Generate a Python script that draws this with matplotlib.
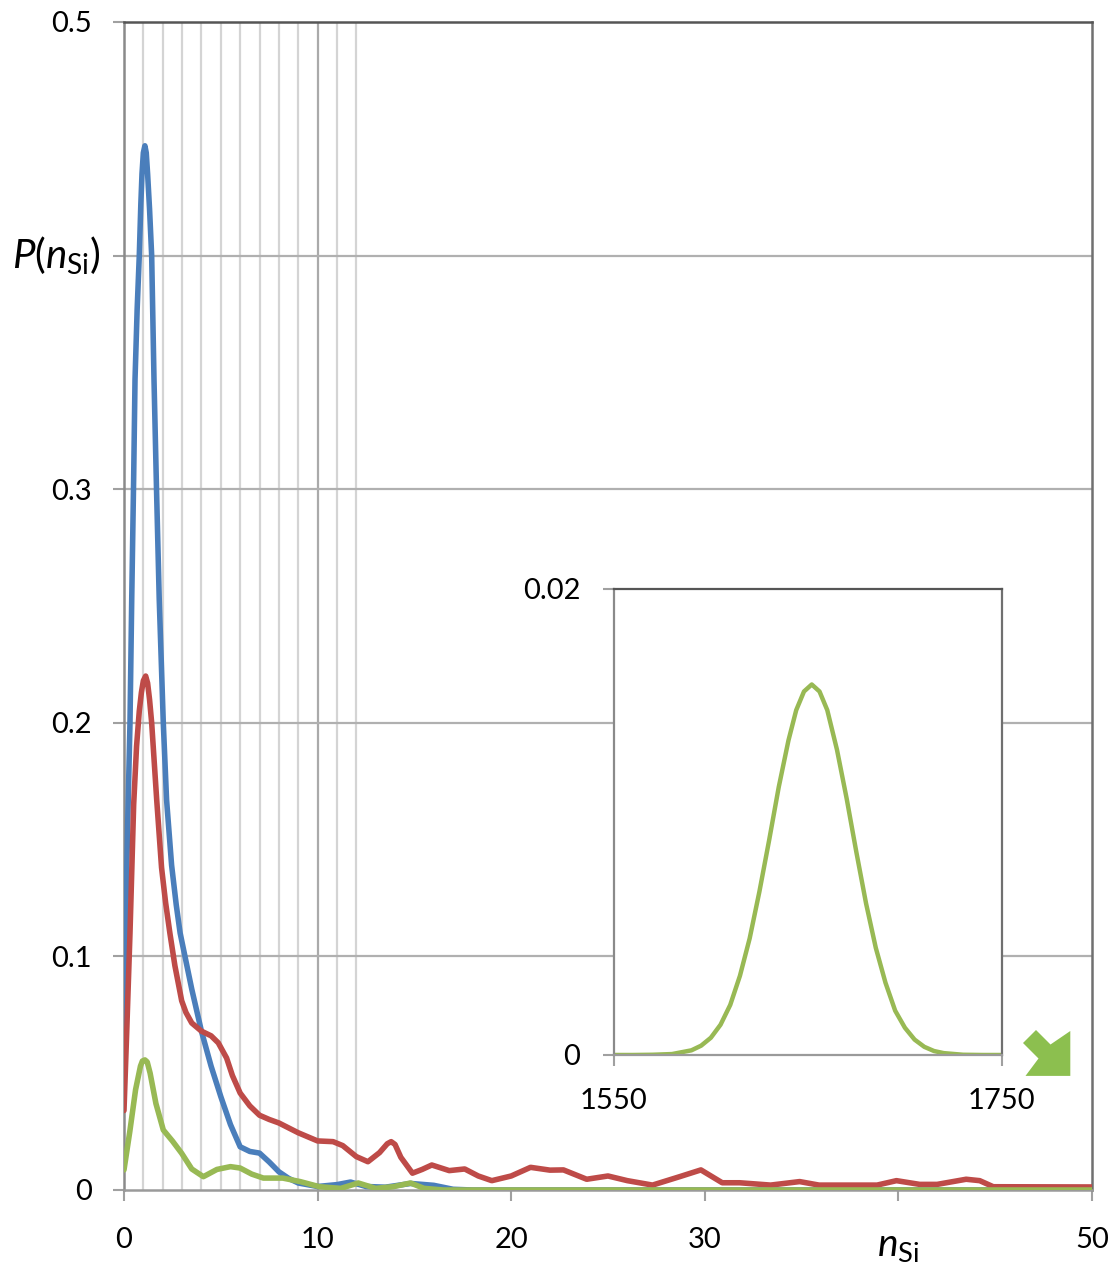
import matplotlib
matplotlib.use("Agg")
import matplotlib.pyplot as plt
from matplotlib.patches import Polygon

plt.rcParams['font.family'] = ['Lato', 'DejaVu Sans']
plt.rcParams['mathtext.fontset'] = 'custom'
plt.rcParams['mathtext.rm'] = 'Lato'
plt.rcParams['mathtext.it'] = 'Lato:italic'

# main chart data
blue_x = [0, 0.1, 0.2, 0.31, 0.4, 0.5, 0.57, 0.68, 0.79, 0.87, 0.93, 1.0, 1.08, 1.15, 1.22,
          1.32, 1.43, 1.55, 1.68, 1.82, 2.03, 2.2, 2.46, 2.7, 2.9, 3.15, 3.5, 4, 4.5, 5,
          5.5, 6, 6.5, 7, 7.5, 8, 8.5, 9, 10, 11, 11.7, 12.5, 13.5, 14.8, 16, 17, 18, 50]
blue_y = [0.07, 0.12, 0.16, 0.2, 0.253, 0.305, 0.347, 0.377, 0.4, 0.422, 0.435, 0.444, 0.447,
          0.444, 0.435, 0.42, 0.4, 0.347, 0.3, 0.253, 0.2, 0.167, 0.139, 0.122, 0.11, 0.1,
          0.086, 0.068, 0.053, 0.04, 0.028, 0.0185, 0.0165, 0.0158, 0.012, 0.0078, 0.005,
          0.003, 0.0015, 0.0023, 0.0034, 0.0015, 0.0012, 0.0028, 0.002, 0.0003, 0.0, 0.0]

red_x = [0, 0.15, 0.31, 0.5, 0.65, 0.79, 0.9, 1.0, 1.12, 1.22, 1.32, 1.43, 1.69, 1.94, 2.15,
         2.37, 2.63, 2.98, 3.2, 3.5, 4, 4.5, 4.87, 5.3, 5.6, 6, 6.5, 7, 7.5, 8, 9, 10, 10.8,
         11.3, 12, 12.6, 13.2, 13.6, 13.8, 14.0, 14.3, 14.9, 15.4, 15.9, 16.8, 17.6, 18.3,
         19.0, 20, 21, 22, 22.7, 23.9, 25, 26, 27.3, 28.7, 29.8, 30.9, 31.8, 33.4, 34.9,
         35.9, 38.9, 39.9, 41.1, 42, 43.5, 44.2, 44.9, 50]
red_y = [0.034, 0.07, 0.11, 0.165, 0.19, 0.205, 0.213, 0.218, 0.22, 0.217, 0.21, 0.2, 0.167,
         0.138, 0.123, 0.11, 0.096, 0.081, 0.076, 0.0715, 0.068, 0.066, 0.063, 0.0565,
         0.049, 0.0415, 0.036, 0.032, 0.0302, 0.0287, 0.0245, 0.021, 0.0207, 0.019, 0.0143,
         0.0121, 0.016, 0.0198, 0.0207, 0.0195, 0.014, 0.0072, 0.0088, 0.0107, 0.0083,
         0.009, 0.006, 0.004, 0.006, 0.0097, 0.0085, 0.0086, 0.0046, 0.006, 0.004, 0.0021,
         0.0057, 0.0086, 0.0031, 0.0031, 0.0021, 0.0036, 0.0021, 0.0021, 0.004, 0.0024,
         0.0024, 0.0046, 0.004, 0.0014, 0.0013]

green_x = [0, 0.3, 0.6, 0.85, 0.95, 1.08, 1.2, 1.35, 1.65, 2.03, 2.5, 2.98, 3.5, 4.1, 4.8,
           5.5, 6.0, 6.6, 7.2, 8.2, 9.1, 10.1, 11.2, 12.1, 13.0, 13.9, 14.8, 15.5, 16.5, 50]
green_y = [0.0086, 0.025, 0.043, 0.053, 0.0552, 0.0557, 0.0548, 0.05, 0.037, 0.0257, 0.021,
           0.0157, 0.009, 0.0057, 0.0088, 0.010, 0.0094, 0.0068, 0.0051, 0.0051, 0.0036,
           0.0014, 0.0007, 0.003, 0.0007, 0.0014, 0.003, 0.0007, 0.0, 0.0]

# inset data (large clusters)
inset_x = [1550, 1560, 1570, 1580, 1590, 1595, 1600, 1605, 1610, 1615, 1620, 1625, 1630,
           1635, 1640, 1644, 1648, 1652, 1656, 1660, 1665, 1670, 1675, 1680, 1685, 1690,
           1695, 1700, 1705, 1710, 1715, 1720, 1730, 1740, 1750]
inset_y = [0.0, 0.0, 0.00001, 0.00004, 0.0002, 0.00040, 0.00074, 0.0013, 0.00215, 0.0034,
           0.0050, 0.0070, 0.0092, 0.0115, 0.0135, 0.0148, 0.0156, 0.0159, 0.0156, 0.0148,
           0.0131, 0.0110, 0.0087, 0.0065, 0.0046, 0.0031, 0.0019, 0.00117, 0.00066,
           0.00035, 0.00017, 0.00008, 0.00001, 0.0, 0.0]

y_ticks = [0, 0.1, 0.2, 0.3, 0.4, 0.5]
y_labels = ['0', '0.1', '0.2', '0.3', '', '0.5']
x_ticks = [0, 10, 20, 30, 40, 50]
x_labels = ['0', '10', '20', '30', '', '50']

BLUE = '#4a7ebb'
RED = '#be4b48'
GREEN = '#98b954'

fig = plt.figure(figsize=(11.12, 12.63), dpi=100)
ax = fig.add_axes([0.1115, 0.0578, 0.8705, 0.9248])

ax.set_xlim(0, 50)
ax.set_ylim(0, 0.5)
ax.set_yticks(y_ticks)
ax.set_yticklabels(y_labels)
ax.set_xticks(x_ticks)
ax.set_xticklabels(x_labels)

for v in [1, 2, 3, 4, 5, 6, 7, 8, 9, 11, 12]:
    ax.axvline(v, color='#d4d4d4', lw=1.6, zorder=1)
ax.axvline(10, color='#aaaaaa', lw=1.6, zorder=1)
for h in [0.1, 0.2, 0.3, 0.4]:
    ax.axhline(h, color='#b0b0b0', lw=1.6, zorder=1)

line_kw = dict(lw=4.0, solid_capstyle='round', solid_joinstyle='round')
ax.plot(blue_x, blue_y, color=BLUE, zorder=3, **line_kw)
ax.plot(red_x, red_y, color=RED, zorder=3, **line_kw)
ax.plot(green_x, green_y, color=GREEN, zorder=4, **line_kw)

ax.spines['left'].set_color('#8a8a8a')
ax.spines['bottom'].set_color('#9a9a9a')
ax.spines['top'].set_color('#555555')
ax.spines['right'].set_color('#707070')
for s in ax.spines.values():
    s.set_linewidth(1.8)

ax.tick_params(axis='y', direction='out', length=8, width=1.5, color='#a0a0a0',
               pad=15, labelsize=21)
ax.tick_params(axis='x', direction='out', length=8, width=1.5, color='#a0a0a0',
               pad=19, labelsize=21)

ax.text(-0.116, 0.8, r'$\mathit{P}(\mathit{n}_{\mathrm{Si}})$', transform=ax.transAxes,
        fontsize=29, ha='left', va='center')
ax.text(0.8, -0.048, r'$\mathit{n}_{\mathrm{Si}}$', transform=ax.transAxes,
        fontsize=28, ha='center', va='center')

# inset
ins = fig.add_axes([0.552, 0.1647, 0.349, 0.369])
ins.set_facecolor('white')
ins.plot(inset_x, inset_y, color=GREEN, lw=3.2, solid_capstyle='round',
         solid_joinstyle='round')
ins.set_xlim(1550, 1750)
ins.set_ylim(0, 0.02)
ins.set_xticks([1550, 1750])
ins.set_xticklabels(['1550', '1750'])
ins.set_yticks([0, 0.02])
ins.set_yticklabels(['0', '0.02'])
ins.spines['left'].set_color('#8a8a8a')
ins.spines['bottom'].set_color('#9a9a9a')
ins.spines['top'].set_color('#555555')
ins.spines['right'].set_color('#707070')
for s in ins.spines.values():
    s.set_linewidth(1.6)
ins.tick_params(axis='y', direction='out', length=8, width=1.5, color='#a0a0a0',
                pad=16, labelsize=21)
ins.tick_params(axis='x', direction='out', length=8, width=1.5, color='#a0a0a0',
                pad=16, labelsize=21)

# green arrow pointing down-right
W, H = 1112.0, 1263.0
arrow_px = [(1023.0, 1043.0), (1036.0, 1030.0), (1050.5, 1044.5), (1070.3, 1031.0),
            (1070.3, 1075.9), (1025.5, 1075.9), (1038.5, 1058.5)]
arrow = Polygon([(x / W, 1 - y / H) for x, y in arrow_px], closed=True,
                facecolor='#8cbf4f', edgecolor='none', transform=fig.transFigure)
fig.patches.append(arrow)

fig.savefig('out.png', dpi=100, facecolor='white')
